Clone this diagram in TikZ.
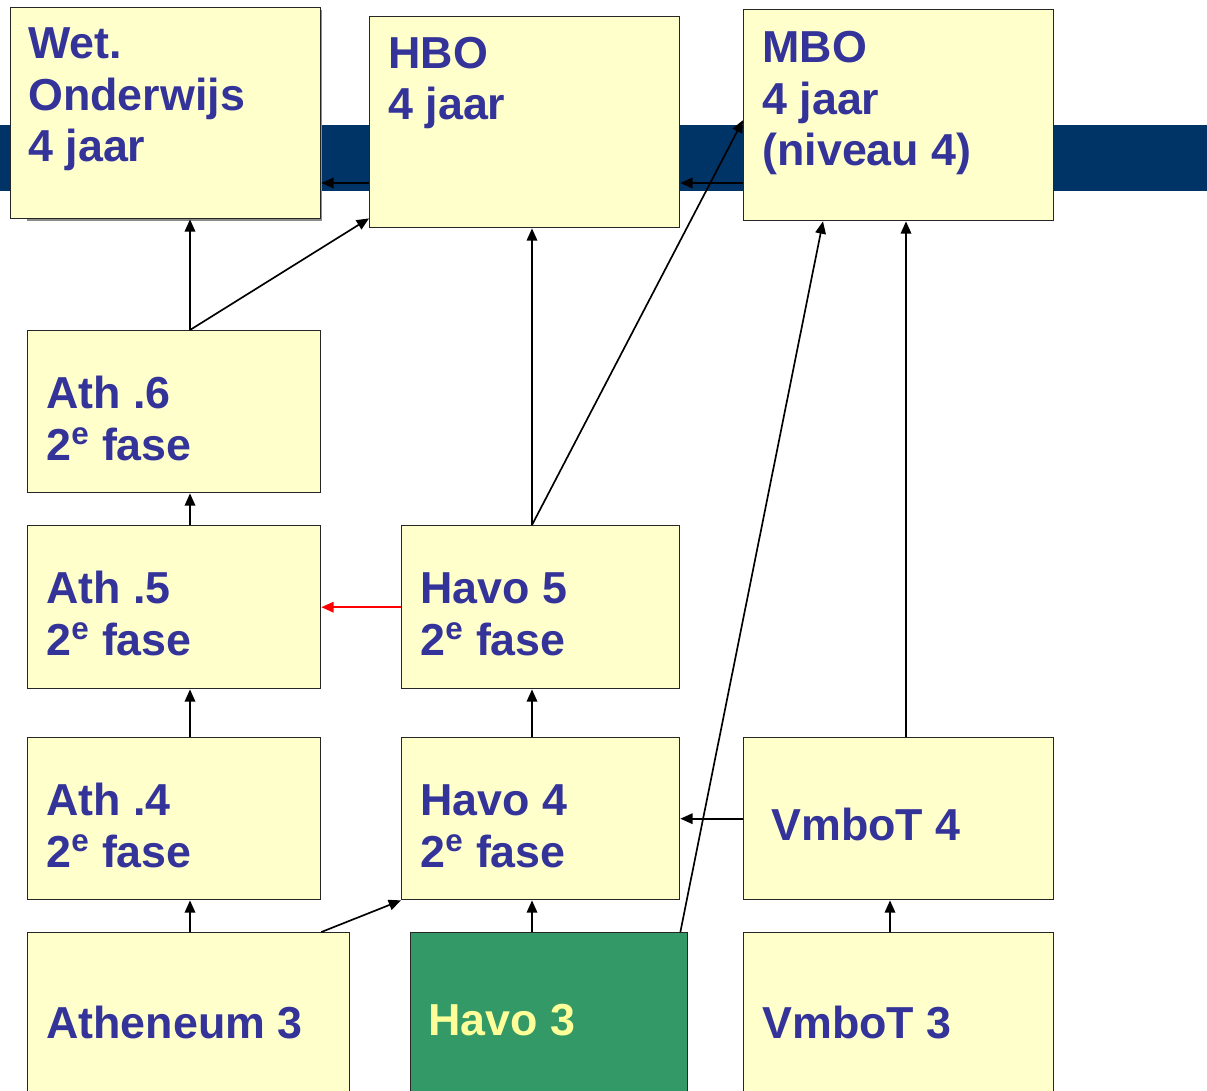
\documentclass[tikz,border=0pt]{standalone}
\usepackage{fontspec}
\setmainfont{Liberation Sans}
\usepackage{xcolor}
\usetikzlibrary{positioning,calc,arrows.meta}

\definecolor{boxfill}{RGB}{255,255,204}
\definecolor{txtblue}{RGB}{51,51,153}
\definecolor{band}{RGB}{0,51,102}
\definecolor{havogreen}{RGB}{51,153,102}
\definecolor{havotxt}{RGB}{255,255,153}

\tikzset{
	box/.style={draw=black!85, line width=0.8pt, fill=boxfill, anchor=north west, inner sep=0pt},
	lbl/.style={anchor=base west, inner sep=0pt, align=left, text=txtblue, font=\fontsize{25.5}{29.5}\selectfont\bfseries},
	arr/.style={-{Triangle[length=7pt,width=6pt]}, line width=0.95pt}
}

\begin{document}
\begin{tikzpicture}[x=0.02cm, y=-0.02cm]
	\clip (0,0) rectangle (1207,1091);
	\fill[band] (0,125) rectangle (1207,191);

	\coordinate (ca) at (190,0);
	\coordinate (cb) at (532,0);
	\coordinate (cc) at (906,0);
	\coordinate (cd) at (823,0);
	\coordinate (ce) at (890,0);
	\coordinate (rowtop) at (0,183);

	\fill[black!45] (27,10) rectangle (322,221);
	\node[box, minimum width=6.2cm, minimum height=4.22cm] (wet) at (10,7) {};
	\node[box, minimum width=6.2cm, minimum height=4.22cm] (hbo) at (369,16) {};
	\node[box, minimum width=6.2cm, minimum height=4.22cm] (mbo) at (743,9) {};

	\node[box, minimum width=5.86cm, minimum height=3.24cm] (ath6) at (27,330) {};
	\node[box, minimum width=5.86cm, minimum height=3.26cm] (ath5) at (27,525) {};
	\node[box, minimum width=5.56cm, minimum height=3.26cm] (havo5) at (401,525) {};
	\node[box, minimum width=5.86cm, minimum height=3.24cm] (ath4) at (27,737) {};
	\node[box, minimum width=5.56cm, minimum height=3.24cm] (havo4) at (401,737) {};
	\node[box, minimum width=6.2cm, minimum height=3.24cm] (vmbo4) at (743,737) {};
	\node[box, minimum width=6.44cm, minimum height=3.6cm] (ath3) at (27,932) {};
	\node[box, fill=havogreen, minimum width=5.54cm, minimum height=3.6cm] (havo3) at (410,932) {};
	\node[box, minimum width=6.2cm, minimum height=3.6cm] (vmbo3) at (743,932) {};

	\node[lbl] (wettxt) at (28,162) {Wet.\\Onderwijs\\4 jaar};
	\node[lbl] (hbotxt) at (388,120) {HBO\\4 jaar};
	\node[lbl] (mbotxt) at (762,166) {MBO\\4 jaar\\(niveau 4)};
	\node[lbl] (ath6txt) at (46,460) {Ath .6\\2\textsuperscript{e} fase};
	\node[lbl] (ath5txt) at (46,655) {Ath .5\\2\textsuperscript{e} fase};
	\node[lbl] (havo5txt) at (420,655) {Havo 5\\2\textsuperscript{e} fase};
	\node[lbl] (ath4txt) at (46,867) {Ath .4\\2\textsuperscript{e} fase};
	\node[lbl] (havo4txt) at (420,867) {Havo 4\\2\textsuperscript{e} fase};
	\node[lbl] (vmbo4txt) at (771,840) {VmboT 4};
	\node[lbl] (ath3txt) at (46,1038) {Atheneum 3};
	\node[lbl, text=havotxt] (havo3txt) at (428,1035) {Havo 3};
	\node[lbl] (vmbo3txt) at (762,1038) {VmboT 3};

	\draw[arr] (hbo.west |- rowtop) -- (wet.east |- rowtop);
	\draw[arr] (mbo.west |- rowtop) -- (hbo.east |- rowtop);
	\draw[arr] (ath6.north -| ca) -- (wet.south -| ca);
	\draw[arr] (ath6.north -| ca) -- ($(hbo.south west)+(0,-10)$);
	\draw[arr] (havo5.north -| cb) -- (hbo.south -| cb);
	\draw[arr] (havo5.north -| cb) -- ($(mbo.west)+(0,5)$);
	\draw[arr] (ath5.north -| ca) -- (ath6.south -| ca);
	\draw[arr, red] (havo5.west) -- (ath5.east);
	\draw[arr] (ath4.north -| ca) -- (ath5.south -| ca);
	\draw[arr] (havo4.north -| cb) -- (havo5.south -| cb);
	\draw[arr] (vmbo4.west) -- (havo4.east);
	\draw[arr] (vmbo4.north -| cc) -- (mbo.south -| cc);
	\draw[arr] ($(havo3.north east)+(-8,0)$) -- (mbo.south -| cd);
	\draw[arr] (ath3.north -| ca) -- (ath4.south -| ca);
	\draw[arr] (ath3.north -| ath4.east) -- (havo4.south west);
	\draw[arr] (havo3.north -| cb) -- (havo4.south -| cb);
	\draw[arr] (vmbo3.north -| ce) -- (vmbo4.south -| ce);
\end{tikzpicture}
\end{document}
